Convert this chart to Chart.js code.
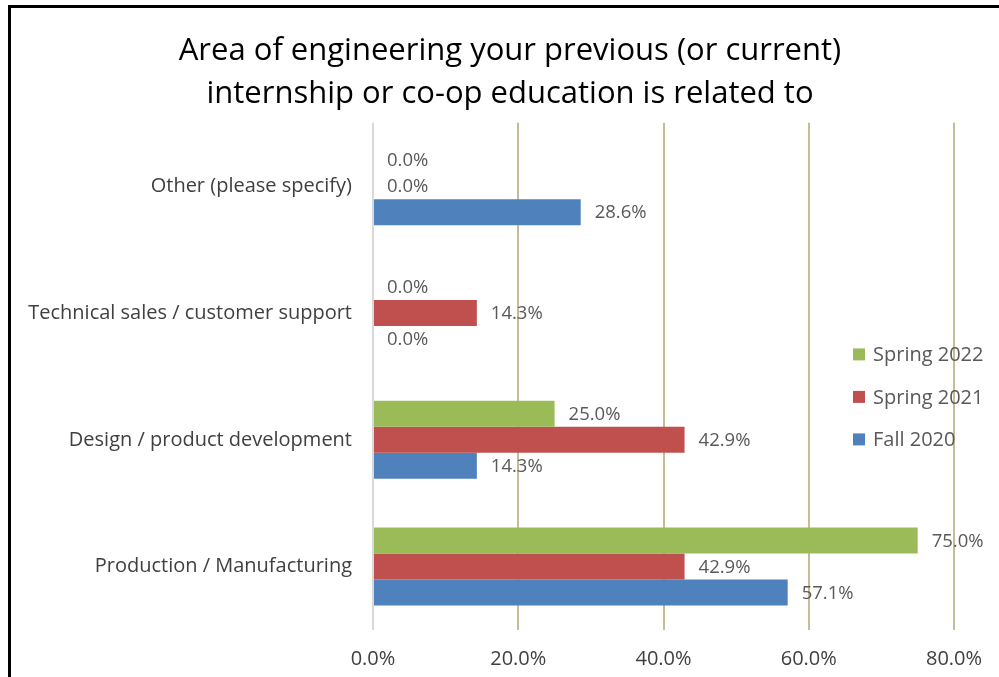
<!DOCTYPE html>
<html>
<head>
<meta charset="utf-8">
<script src="https://cdn.jsdelivr.net/npm/chart.js@4"></script>
<style>
  html, body { margin: 0; padding: 0; background: #fff; }
  #wrap { position: relative; width: 999px; height: 677px; }
  #frame {
    position: absolute; left: 8px; top: 5px; right: 0; bottom: 0;
    border-top: 3px solid #000; border-left: 3px solid #000;
    pointer-events: none;
  }
</style>
</head>
<body>
<div id="wrap">
  <canvas id="areaChart" width="999" height="677"></canvas>
  <div id="frame"></div>
</div>
<script>
const categories = [
    'Other (please specify)',
    'Technical sales / customer support',
    'Design / product development',
    'Production / Manufacturing'
];
const spring2022 = [0.0, 0.0, 25.0, 75.0];
const spring2021 = [0.0, 14.3, 42.9, 42.9];
const fall2020 = [28.6, 0.0, 14.3, 57.1];
const xTicks = [0, 20, 40, 60, 80];

const FONT = '"Open Sans", sans-serif';

// value labels at the end of each bar
const barLabels = {
    id: 'barLabels',
    afterDatasetsDraw(chart) {
        const ctx = chart.ctx;
        ctx.save();
        ctx.font = '18.5px ' + FONT;
        ctx.fillStyle = '#595959';
        ctx.textAlign = 'left';
        ctx.textBaseline = 'middle';
        chart.data.datasets.forEach((ds, i) => {
            chart.getDatasetMeta(i).data.forEach((bar, j) => {
                ctx.fillText(ds.data[j].toFixed(1) + '%', bar.x + 14, bar.y + 1);
            });
        });
        ctx.restore();
    }
};

// legend sitting on the right side of the plot
const sideLegend = {
    id: 'sideLegend',
    afterDraw(chart) {
        const ctx = chart.ctx;
        const area = chart.chartArea;
        const x = area.right - 101;
        const y0 = area.top + (area.bottom - area.top) / 2 - 22;
        ctx.save();
        ctx.font = '20px ' + FONT;
        ctx.textBaseline = 'middle';
        chart.data.datasets.forEach((ds, i) => {
            const y = y0 + i * 42.5;
            ctx.fillStyle = ds.backgroundColor;
            ctx.fillRect(x, y - 6, 12, 12);
            ctx.fillStyle = '#595959';
            ctx.fillText(ds.label, x + 20, y + 1);
        });
        ctx.restore();
    }
};

new Chart(document.getElementById('areaChart'), {
    type: 'bar',
    data: {
        labels: categories,
        datasets: [
            { label: 'Spring 2022', data: spring2022, backgroundColor: '#9bbb59' },
            { label: 'Spring 2021', data: spring2021, backgroundColor: '#c0504d' },
            { label: 'Fall 2020', data: fall2020, backgroundColor: '#4f81bd' }
        ]
    },
    options: {
        indexAxis: 'y',
        responsive: false,
        animation: false,
        categoryPercentage: 0.615,
        barPercentage: 1,
        layout: { padding: { top: 29, right: 0, bottom: 0, left: 21 } },
        plugins: {
            legend: { display: false },
            tooltip: { enabled: false },
            title: {
                display: true,
                text: ['Area of engineering your previous (or current)', 'internship or co-op education is related to'],
                color: '#000',
                font: { family: FONT, size: 31, weight: 'normal', lineHeight: 1.4 },
                padding: { top: 0, bottom: 7 }
            }
        },
        scales: {
            x: {
                min: 0,
                max: 80,
                afterBuildTicks(scale) {
                    scale.ticks = xTicks.map(v => ({ value: v }));
                },
                afterFit(scale) {
                    scale.height = 47;
                    scale.paddingRight = 45;
                },
                ticks: {
                    callback: v => v.toFixed(1) + '%',
                    color: '#404040',
                    font: { family: FONT, size: 20 },
                    padding: 17,
                    maxRotation: 0
                },
                grid: {
                    drawTicks: false,
                    lineWidth: 2,
                    color: c => c.index === 0 ? '#d9d9d9' : '#c4bd97'
                },
                border: { display: false }
            },
            y: {
                afterFit(scale) { scale.width = 352; },
                ticks: {
                    color: '#404040',
                    font: { family: FONT, size: 20 },
                    padding: 21
                },
                grid: { display: false, drawTicks: false },
                border: { display: false }
            }
        }
    },
    plugins: [barLabels, sideLegend]
});
</script>
</body>
</html>
